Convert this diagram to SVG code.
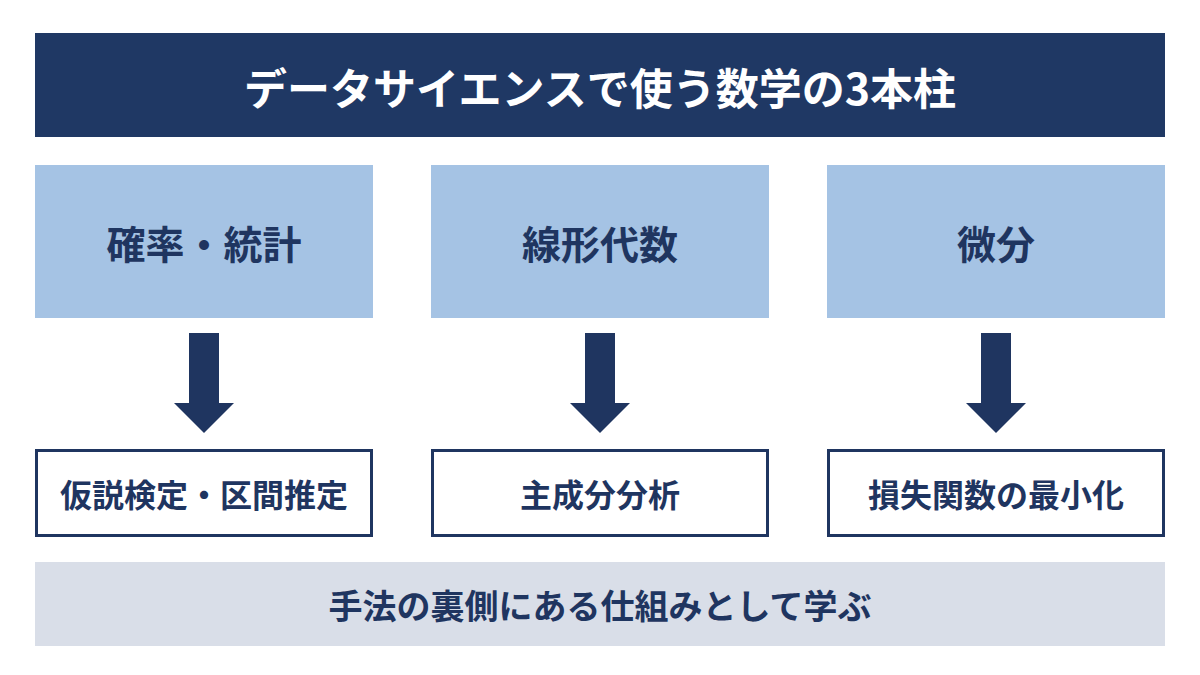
<svg xmlns="http://www.w3.org/2000/svg" width="1200" height="675" viewBox="0 0 1200 675">
<style>
.t{font-family:"Noto Sans CJK JP","Noto Sans",sans-serif;font-weight:bold;text-anchor:middle;dominant-baseline:central;fill:#1f3560}
.top{fill:#a5c3e4}
.res{fill:#fff;stroke:#1f3560;stroke-width:3}
.arr{fill:#1f3560}
</style>
<rect width="1200" height="675" fill="#fff"/>
<g id="title"><rect x="35" y="33" width="1130" height="104" fill="#1f3864"/><text class="t" x="600" y="86" font-size="43" style="fill:#fff">データサイエンスで使う数学の3本柱</text></g>
<g id="n1"><rect class="top" x="35" y="165" width="338" height="153"/><text class="t" x="204" y="242" font-size="39">確率・統計</text></g>
<g id="n2"><rect class="top" x="431" y="165" width="338" height="153"/><text class="t" x="600" y="242" font-size="39">線形代数</text></g>
<g id="n3"><rect class="top" x="827" y="165" width="338" height="153"/><text class="t" x="996" y="242" font-size="39">微分</text></g>
<g id="connectors">
<path class="arr" d="M189 333h30v70h15l-30 30l-30-30h15z"/>
<path class="arr" d="M585 333h30v70h15l-30 30l-30-30h15z"/>
<path class="arr" d="M981 333h30v70h15l-30 30l-30-30h15z"/>
</g>
<g id="r1"><rect class="res" x="36.5" y="450.5" width="335" height="85"/><text class="t" x="204" y="493" font-size="32">仮説検定・区間推定</text></g>
<g id="r2"><rect class="res" x="432.5" y="450.5" width="335" height="85"/><text class="t" x="600" y="493" font-size="32">主成分分析</text></g>
<g id="r3"><rect class="res" x="828.5" y="450.5" width="335" height="85"/><text class="t" x="996" y="493" font-size="32">損失関数の最小化</text></g>
<g id="footer"><rect x="35" y="562" width="1130" height="84" fill="#d9dee8"/><text class="t" x="600" y="604" font-size="34">手法の裏側にある仕組みとして学ぶ</text></g>
</svg>
